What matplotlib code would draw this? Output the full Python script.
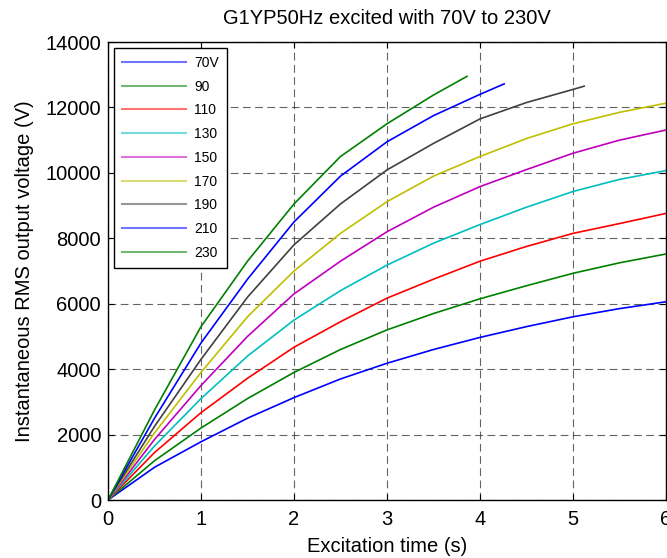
import matplotlib
matplotlib.use("Agg")
import matplotlib.pyplot as plt

plt.rcParams['font.family'] = ['Liberation Sans', 'DejaVu Sans']

labels = ["70V", "90", "110", "130", "150", "170", "190", "210", "230"]
colors = [(0, 0, 1), (0, 0.5, 0), (1, 0, 0), (0, 0.75, 0.75), (0.75, 0, 0.75),
          (0.75, 0.75, 0), (0.25, 0.25, 0.25), (0, 0, 1), (0, 0.5, 0)]

t_full = [0, 0.5, 1, 1.5, 2, 2.5, 3, 3.5, 4, 4.5, 5, 5.5, 6]
v70 = [0, 1000, 1780, 2500, 3130, 3700, 4180, 4600, 4970, 5300, 5600, 5850, 6060]
v90 = [0, 1200, 2200, 3100, 3900, 4600, 5200, 5700, 6150, 6550, 6930, 7250, 7520]
v110 = [0, 1450, 2670, 3720, 4670, 5450, 6170, 6750, 7300, 7750, 8150, 8450, 8760]
v130 = [0, 1650, 3100, 4400, 5500, 6400, 7180, 7850, 8420, 8950, 9430, 9800, 10070]
v150 = [0, 1850, 3500, 5000, 6300, 7300, 8200, 8950, 9580, 10100, 10600, 11000, 11310]
v170 = [0, 2050, 3900, 5600, 7000, 8150, 9120, 9900, 10500, 11050, 11500, 11850, 12130]
t190 = [0, 0.5, 1, 1.5, 2, 2.5, 3, 3.5, 4, 4.5, 5, 5.12]
v190 = [0, 2250, 4300, 6200, 7800, 9050, 10090, 10900, 11650, 12150, 12550, 12650]
t210 = [0, 0.5, 1, 1.5, 2, 2.5, 3, 3.5, 4, 4.26]
v210 = [0, 2500, 4800, 6750, 8500, 9900, 10950, 11750, 12400, 12720]
t230 = [0, 0.5, 1, 1.5, 2, 2.5, 3, 3.5, 3.86]
v230 = [0, 2750, 5300, 7300, 9050, 10500, 11500, 12380, 12950]

series_t = [t_full] * 6 + [t190, t210, t230]
series_v = [v70, v90, v110, v130, v150, v170, v190, v210, v230]

fig = plt.figure(figsize=(6.67, 5.58), dpi=100)
ax = fig.add_axes([108 / 667, 1 - 500 / 558, (666 - 108) / 667, (500 - 42) / 558])

for t, v, c, lab in zip(series_t, series_v, colors, labels):
    ax.plot(t, v, color=c, lw=1.2, label=lab)

ax.set_xlim(0, 6)
ax.set_ylim(0, 14000)
ax.set_xticks(range(0, 7))
ax.set_yticks(range(0, 14001, 2000))
ax.tick_params(direction='in', top=True, right=True, labelsize=14.5, length=4,
               width=0.8, pad=5)
ax.tick_params(axis='x', pad=7)
ax.grid(True, color='#303030', linestyle=(0, (7, 4)), linewidth=0.8, alpha=0.75)
for s in ax.spines.values():
    s.set_linewidth(1.0)

ax.set_title("G1YP50Hz excited with 70V to 230V", fontsize=14.5, pad=13)
ax.set_xlabel("Excitation time (s)", fontsize=14.5, labelpad=6)
ax.set_ylabel("Instantaneous RMS output voltage (V)", fontsize=14.5, labelpad=8)

leg = ax.legend(loc='upper left', fontsize=10, frameon=True, fancybox=False,
                edgecolor='black', framealpha=1, handlelength=4.6,
                labelspacing=0.7, handletextpad=0.6, borderaxespad=0.4,
                borderpad=0.6)
leg.get_frame().set_linewidth(1.0)
for line in leg.get_lines():
    line.set_alpha(0.55)
    line.set_linewidth(1.5)

fig.savefig("out.png", dpi=100)
